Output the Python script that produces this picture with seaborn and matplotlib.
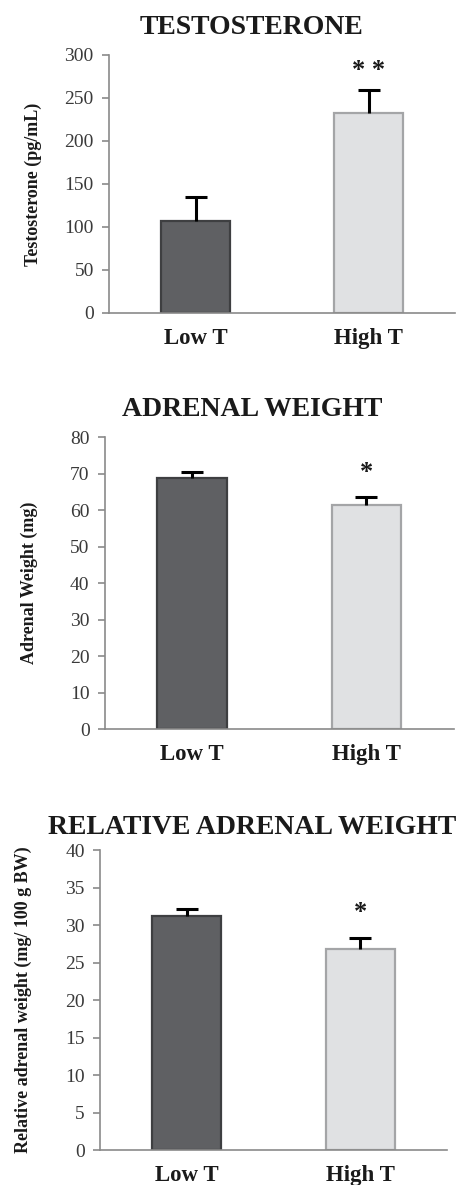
import numpy as np
import pandas as pd
import matplotlib
matplotlib.use("Agg")
import matplotlib.pyplot as plt
import seaborn as sns

sns.set_theme(style="white")
plt.rcParams['font.family'] = ['Liberation Serif', 'DejaVu Serif']

categories = ["Low T", "High T"]

testo_values = [107, 233]
testo_errors = [28, 26]
testo_ticks = [0, 50, 100, 150, 200, 250, 300]

adrenal_values = [68.7, 61.5]
adrenal_errors = [1.6, 2.0]
adrenal_ticks = [0, 10, 20, 30, 40, 50, 60, 70, 80]

rel_values = [31.2, 26.8]
rel_errors = [0.9, 1.5]
rel_ticks = [0, 5, 10, 15, 20, 25, 30, 35, 40]

titles = ["TESTOSTERONE", "ADRENAL WEIGHT", "RELATIVE ADRENAL WEIGHT"]
ylabels = ["Testosterone (pg/mL)", "Adrenal Weight (mg)", "Relative adrenal weight (mg/ 100 g BW)"]
stars = ["", "* *"], ["", "*"], ["", "*"]

bar_colors = ["#5f6063", "#e0e1e3"]
edge_colors = ["#3e3f41", "#a4a5a7"]

fig = plt.figure(figsize=(4.62, 11.85), dpi=100)

rects = [
    [0.236, 0.7359, 0.749, 0.2177],
    [0.227, 0.3848, 0.755, 0.2464],
    [0.2165, 0.0295, 0.751, 0.2532],
]
label_x = [-0.194, -0.192, -0.196]
title_y_px = [27, 410, 828]
star_offset = [0.075, 0.085, 0.085]

panels = [
    (testo_values, testo_errors, testo_ticks),
    (adrenal_values, adrenal_errors, adrenal_ticks),
    (rel_values, rel_errors, rel_ticks),
]

spine_col = "#8a8a8a"
text_col = "#1a1a1a"

for i, (vals, errs, ticks) in enumerate(panels):
    ax = fig.add_axes(rects[i])
    df = pd.DataFrame({"group": categories, "value": vals})
    sns.barplot(data=df, x="group", y="value", hue="group", palette=bar_colors,
                width=0.4, ax=ax, legend=False, saturation=1)
    for p, ec in zip(ax.patches, edge_colors):
        p.set_edgecolor(ec)
        p.set_linewidth(1.6)
    xpos = np.arange(len(categories))
    eb = ax.errorbar(xpos, vals, yerr=[np.zeros(len(vals)), errs], fmt="none",
                     ecolor="black", elinewidth=2.2, capsize=8, capthick=2.2, zorder=3)
    caplines = eb[1]
    if len(caplines) >= 2:
        caplines[0].set_visible(False)
    tops = np.array(vals) + np.array(errs)
    span = ticks[-1] - ticks[0]
    for j, s in enumerate(stars[i]):
        if s:
            ax.text(xpos[j], tops[j] + span * star_offset[i], s, ha="center", va="center",
                    fontsize=19, fontweight="bold", color=text_col)
    ax.set_xlim(-0.5, 1.5)
    ax.set_ylim(ticks[0], ticks[-1])
    ax.set_yticks(ticks)
    ax.set_yticklabels([str(t) for t in ticks], fontsize=14, color="#3a3a3a")
    ax.set_xticks(xpos)
    ax.set_xticklabels(categories, fontsize=16.5, fontweight="bold", color=text_col)
    ax.set_xticks([-0.5, 0.5, 1.5], minor=True)
    ax.tick_params(axis="x", which="major", length=0, pad=11)
    ax.tick_params(axis="x", which="minor", length=5, width=1.2, color=spine_col, direction="out")
    ax.tick_params(axis="y", which="major", length=5, width=1.2, color=spine_col, direction="out", pad=6, left=True)
    ax.set_xlabel("")
    ax.set_ylabel(ylabels[i], fontsize=13, fontweight="bold", color=text_col)
    ax.yaxis.set_label_coords(label_x[i], 0.5)
    for side in ["top", "right"]:
        ax.spines[side].set_visible(False)
    for side in ["left", "bottom"]:
        ax.spines[side].set_color(spine_col)
        ax.spines[side].set_linewidth(1.2)
    fig.text(0.545, 1 - title_y_px[i] / 1185, titles[i],
             ha="center", va="center", fontsize=20, fontweight="bold", color=text_col)

fig.savefig("out.png", dpi=100, facecolor="white")
